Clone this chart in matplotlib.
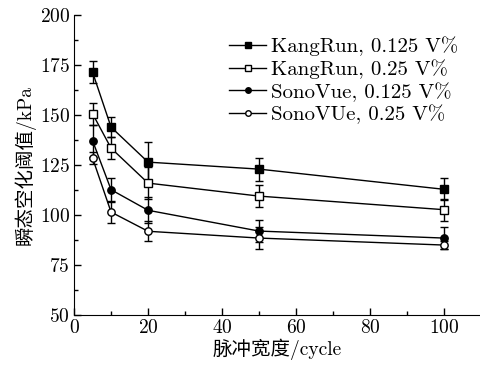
import matplotlib
matplotlib.use("Agg")
import matplotlib.pyplot as plt
from matplotlib.ticker import MultipleLocator

plt.rcParams['font.family'] = ['cmr10', 'Noto Sans CJK SC']
plt.rcParams['axes.formatter.use_mathtext'] = True
plt.rcParams['mathtext.fontset'] = 'cm'

x = [5, 10, 20, 50, 100]
kr_0125 = [171.3, 143.8, 126.3, 122.8, 112.7]
kr_0125_err = [5.5, 5.0, 10.0, 5.7, 5.5]
kr_025 = [150.5, 133.3, 115.8, 109.3, 102.5]
kr_025_err = [5.5, 5.5, 8.0, 5.5, 5.5]
sv_0125 = [137.0, 112.5, 102.2, 91.8, 88.3]
sv_0125_err = [8.0, 6.0, 6.5, 5.5, 5.5]
sv_025 = [128.3, 101.3, 91.7, 88.3, 84.8]
sv_025_err = [3.0, 5.5, 5.0, 5.5, 2.0]
labels = ['KangRun, 0.125 V%', 'KangRun, 0.25 V%', 'SonoVue, 0.125 V%', 'SonoVUe, 0.25 V%']

fig = plt.figure(figsize=(4.81, 3.71), dpi=100)
ax = fig.add_axes([0.154, 0.152, 0.846, 0.808])

series = [(kr_0125, kr_0125_err, 's', 'black'),
          (kr_025, kr_025_err, 's', 'white'),
          (sv_0125, sv_0125_err, 'o', 'black'),
          (sv_025, sv_025_err, 'o', 'white')]
handles = []
for (y, e, m, fc), lab in zip(series, labels):
    ax.errorbar(x, y, yerr=e, fmt='none', ecolor='black',
                elinewidth=1.0, capsize=2.6, capthick=1.0)
    h, = ax.plot(x, y, marker=m, mfc=fc, mec='black', color='black',
                 ms=5.3, lw=1.0, mew=1.0, label=lab)
    handles.append(h)

ax.set_xlim(0, 110)
ax.set_ylim(50, 200)
ax.xaxis.set_major_locator(MultipleLocator(20))
ax.xaxis.set_minor_locator(MultipleLocator(10))
ax.yaxis.set_major_locator(MultipleLocator(25))
ax.yaxis.set_minor_locator(MultipleLocator(12.5))
ax.tick_params(which='both', direction='in', labelsize=14, width=1.0)
ax.tick_params(which='major', length=5)
ax.tick_params(which='minor', length=3)
ax.tick_params(axis='x', pad=3)
ax.tick_params(axis='y', pad=3)
ax.spines['top'].set_visible(False)
ax.spines['right'].set_visible(False)
ax.set_xlabel('脉冲宽度/cycle', fontsize=14, labelpad=1)
ax.set_ylabel('瞬态空化阈值/kPa', fontsize=14, labelpad=3)
leg = ax.legend(handles=handles, loc='upper right', bbox_to_anchor=(0.975, 0.97),
                frameon=False, fontsize=15, handlelength=1.75, handletextpad=0.25,
                labelspacing=0.15, markerscale=0.75, borderaxespad=0.2)
fig.savefig('out.png', dpi=100)
